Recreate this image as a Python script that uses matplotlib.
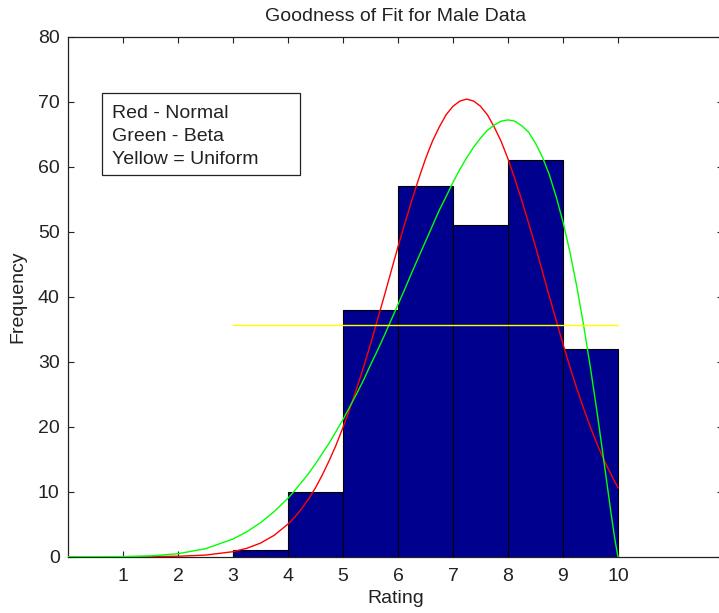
import matplotlib
matplotlib.use("Agg")
import matplotlib.pyplot as plt
from matplotlib.patches import Rectangle

plt.rcParams['font.family'] = ['Liberation Sans', 'DejaVu Sans']

# Histogram data (bin left edges and counts)
bin_left = [3, 4, 5, 6, 7, 8, 9]
counts = [1, 10, 38, 57, 51, 61, 32]

# Fitted curves
curve_x = [0, 0.5, 1, 1.5, 2, 2.5, 3, 3.25, 3.5, 3.75, 4,
           4.125, 4.25, 4.375, 4.5, 4.625, 4.75, 4.875, 5,
           5.125, 5.25, 5.375, 5.5, 5.625, 5.75, 5.875, 6,
           6.125, 6.25, 6.375, 6.5, 6.625, 6.75, 6.875, 7,
           7.125, 7.25, 7.375, 7.5, 7.625, 7.75, 7.875, 8,
           8.125, 8.25, 8.375, 8.5, 8.625, 8.75, 8.875, 9,
           9.125, 9.25, 9.375, 9.5, 9.625, 9.75, 9.875, 9.95, 10]
normal_y = [0.0, 0.0, 0.0, 0.02, 0.07, 0.25, 0.77, 1.29, 2.09, 3.30, 5.02,
            6.1, 7.4, 8.9, 10.6, 12.6, 14.8, 17.2, 19.9,
            22.8, 25.9, 29.2, 32.7, 36.4, 40.1, 43.9, 47.7,
            51.3, 54.8, 58.1, 61.2, 63.9, 66.1, 68.0, 69.3,
            70.1, 70.4, 70.1, 69.3, 68.0, 66.1, 63.9, 61.2,
            58.1, 54.8, 51.3, 47.7, 43.9, 40.1, 36.4, 32.7,
            29.2, 25.9, 22.8, 19.9, 17.2, 14.8, 12.6, 11.4, 10.6]
beta_y = [0.0, 0.0, 0.02, 0.12, 0.46, 1.23, 2.72, 3.83, 5.23, 6.95, 9.0,
          10.2, 11.5, 12.8, 14.3, 15.9, 17.5, 19.3, 21.1,
          23.1, 25.1, 27.2, 29.5, 31.7, 34.0, 36.4, 38.8,
          41.2, 43.7, 46.1, 48.5, 50.9, 53.3, 55.4, 57.6,
          59.6, 61.4, 63.0, 64.4, 65.6, 66.4, 67.0, 67.2,
          67.0, 66.3, 65.3, 63.6, 61.5, 58.8, 55.4, 51.5,
          46.9, 41.6, 35.6, 29.0, 21.9, 14.3, 6.6, 2.3, 0.0]
uniform_x = [3, 10]
uniform_y = [35.7, 35.7]

x_ticks = [1, 2, 3, 4, 5, 6, 7, 8, 9, 10]
y_ticks = [0, 10, 20, 30, 40, 50, 60, 70, 80]
legend_lines = ['Red - Normal', 'Green - Beta', 'Yellow = Uniform']

FS = 14

fig = plt.figure(figsize=(7.19, 6.13), dpi=100)
ax = fig.add_axes([68 / 719, 56.3 / 613, 654.5 / 719, 520 / 613])

ax.bar(bin_left, counts, width=1.0, align='edge', color=(0, 0, 0.5625),
       edgecolor='black', linewidth=0.8, zorder=2)
ax.plot(curve_x, normal_y, color='red', linewidth=1.0, zorder=3)
ax.plot(curve_x, beta_y, color=(0, 1, 0), linewidth=1.0, zorder=4)
ax.plot(uniform_x, uniform_y, color=(1, 1, 0), linewidth=1.0, zorder=5)

ax.set_xlim(0, 11.9)
ax.set_ylim(0, 80)
ax.set_xticks(x_ticks)
ax.set_yticks(y_ticks)
ax.tick_params(direction='in', length=4.5, width=0.8, top=True, right=True,
               labelsize=FS, colors='#222222')
ax.tick_params(axis='x', pad=8)
ax.tick_params(axis='y', pad=6)
for s in ax.spines.values():
    s.set_linewidth(0.9)
    s.set_color('#222222')

ax.set_title('Goodness of Fit for Male Data', fontsize=FS, pad=11, color='#222222')
ax.set_xlabel('Rating', fontsize=FS, labelpad=4, color='#222222')
ax.set_ylabel('Frequency', fontsize=FS, labelpad=8, color='#222222')

# annotation box
ax.add_patch(Rectangle((0.612, 58.8), 4.218 - 0.612, 71.4 - 58.8,
                       facecolor='white', edgecolor='#222222', linewidth=0.9,
                       zorder=6))
for txt, yb in zip(legend_lines, [67.5, 63.95, 60.4]):
    ax.text(0.8, yb, txt, fontsize=FS, va='baseline', ha='left',
            color='#222222', zorder=7)

fig.savefig('out.png', dpi=100)
